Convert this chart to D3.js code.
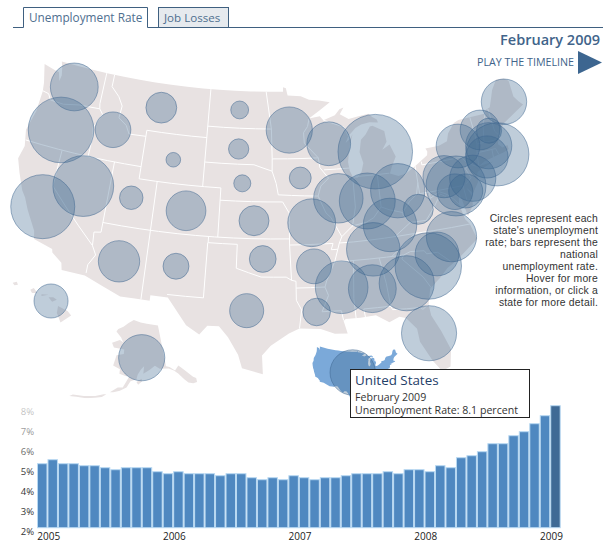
<!DOCTYPE html>
<html>
<head>
<meta charset="utf-8">
<script src="https://cdn.jsdelivr.net/npm/d3@7"></script>
<style>
body { margin: 0; background: #fff; }
text { font-family: "Open Sans", sans-serif; }
</style>
</head>
<body>
<div id="chart"></div>
<script>
// unemployment rate for each state, Feb 2009
var states = ["WA","OR","ID","MT","ND","SD","WY","NE","MN","NV","CA","UT","CO","KS","AZ","NM","OK","TX","HI","AK","IA","WI","MI","ME","NH","VT","RI","MA","CT","NY","PA","NJ","DE","MD","DC","WV","KY","TN","MO","IL","IN","OH","AR","LA","MS","AL","GA","SC","VA","NC","FL"];
var rates = [8.4,10.6,6.9,6.3,4.7,5.0,4.3,4.6,8.2,10.0,10.4,5.4,7.4,6.2,7.6,5.7,5.8,6.7,6.7,8.2,5.2,7.9,11.7,8.1,7.4,5.6,10.3,8.2,7.7,7.9,7.7,8.2,6.9,6.7,9.9,6.2,9.1,9.1,8.4,8.6,9.4,9.2,6.8,5.9,9.0,8.4,9.3,10.7,8.7,7.9,9.3];
var stateLon = [-120.48,-120.69,-114.91,-109.77,-100.39,-100.30,-107.59,-99.73,-94.46,-116.84,-120.48,-111.56,-105.59,-98.34,-111.73,-106.03,-97.36,-98.83,-156.49,-151.99,-93.33,-89.94,-84.72,-69.03,-72.55,-71.58,-71.36,-72.04,-72.53,-75.39,-77.60,-74.59,-76.76,-75.62,-76.53,-80.93,-84.10,-86.10,-92.26,-89.28,-86.20,-82.81,-92.20,-92.12,-89.57,-86.59,-83.19,-80.84,-78.03,-79.78,-81.76];
var stateLat = [47.25,43.57,44.55,47.01,47.44,44.24,42.92,41.46,45.85,39.57,37.17,39.38,38.92,38.46,34.13,34.36,35.37,31.14,20.66,62.82,41.92,44.60,43.61,45.51,43.80,43.56,41.53,42.38,41.53,42.94,40.73,40.12,39.36,39.24,39.80,38.49,37.56,35.75,38.26,40.12,39.70,40.23,34.72,31.00,32.90,32.58,32.69,33.82,35.84,34.67,28.39];

var usSpot = [-98.05, 38.93];

var months = [];
["2005","2006","2007","2008","2009"].forEach(function(y) {
    d3.range(1, 13).forEach(function(m) { months.push(y + "-" + m); });
});
months = months.slice(0, 50);
var national = [5.2,5.4,5.2,5.2,5.1,5.1,5.0,4.9,5.0,5.0,5.0,4.8,4.7,4.8,4.7,4.7,4.7,4.6,4.7,4.7,4.5,4.4,4.5,4.4,4.6,4.5,4.4,4.5,4.5,4.6,4.7,4.7,4.7,4.8,4.7,4.9,4.9,4.8,5.1,5.0,5.5,5.6,5.8,6.2,6.2,6.6,6.8,7.2,7.6,8.1];
var yearTicks = ["2005-1","2006-1","2007-1","2008-1","2009-1"];
var rateTicks = [2,3,4,5,6,7,8];

var noteLines = ["Circles represent each","state's unemployment","rate; bars represent the","national","unemployment rate.","Hover for more","information, or click a","state for more detail."];

// lower 48 outline, lon/lat, clockwise
var outline = [[-124.7,48.4],[-123.2,48.15],[-122.75,48.1],[-122.4,47.4],[-122.3,47.9],[-122.5,48.5],[-122.76,49],[-95.15,49],[-95.15,49.38],[-94.8,49.3],[-94.6,48.7],[-93,48.6],[-92,48.3],[-90.8,48.2],[-89.5,48],[-92.1,46.75],[-90.8,46.9],[-90.4,46.55],[-89,46.9],[-88.4,47.35],[-87.9,47.47],[-88.4,46.95],[-87.4,46.5],[-86.2,46.65],[-85,46.75],[-84.6,46.45],[-84.1,46.2],[-84,45.95],[-85,46.05],[-86,45.95],[-86.7,45.7],[-87.6,45.1],[-88,44.55],[-87.4,44.9],[-87.1,45.25],[-87.6,44.2],[-87.9,43],[-87.8,42.3],[-87.5,41.7],[-87,41.65],[-86.5,42.1],[-86.2,42.8],[-86.5,43.7],[-86.2,44.7],[-85.6,45.1],[-85,45.7],[-84.7,45.75],[-83.4,45.2],[-83.3,44.3],[-83.9,43.7],[-83,44.05],[-82.5,43],[-83.1,42.2],[-83.4,41.7],[-82.5,41.4],[-81.7,41.5],[-80.5,42],[-79,42.7],[-78.9,43],[-79.05,43.27],[-77.5,43.27],[-76.5,43.5],[-76.2,44.1],[-75.3,44.85],[-74.7,45],[-71.5,45],[-71.4,45.25],[-70.8,45.4],[-70.3,46.2],[-70,46.7],[-69.2,47.45],[-68.3,47.35],[-67.8,47.05],[-67.8,45.7],[-67.4,45.2],[-67,44.85],[-68.5,44.3],[-69.8,43.8],[-70.6,43.1],[-70.8,42.7],[-71,42.3],[-70.6,41.95],[-70,42.05],[-70,41.7],[-70.6,41.55],[-71.4,41.45],[-72.9,41.25],[-73.7,40.95],[-72,41.05],[-73.9,40.55],[-74,40.4],[-74.1,39.75],[-74.9,38.95],[-75.5,39.5],[-75.1,38.8],[-75.2,38],[-75.95,37.2],[-76.2,38.6],[-76.4,39.2],[-76.6,38.3],[-76.3,37],[-75.95,36.6],[-75.5,35.25],[-76.6,34.65],[-77.9,33.9],[-79,33.4],[-79.9,32.7],[-81,32],[-81.4,30.7],[-81.3,29.8],[-80.6,28.4],[-80,26.8],[-80.3,25.4],[-81.1,25.15],[-81.8,26.1],[-82.7,27.8],[-82.8,28.9],[-83.7,29.9],[-84.3,30.05],[-85.3,29.7],[-86.5,30.4],[-88,30.3],[-89.4,30.3],[-89.6,30.15],[-89.3,29.1],[-90.5,29.15],[-91.8,29.6],[-93.8,29.7],[-94.8,29.3],[-96.5,28.3],[-97.3,27.5],[-97.2,25.95],[-99.1,26.4],[-99.5,27.5],[-100.5,28.9],[-101.4,29.77],[-102.5,29.75],[-103.2,28.98],[-104.5,29.65],[-106.5,31.76],[-108.2,31.78],[-108.2,31.33],[-111.07,31.33],[-114.8,32.5],[-117.12,32.53],[-117.3,33.1],[-118.4,33.75],[-118.5,34.03],[-120.5,34.45],[-120.7,35.1],[-121.9,36.6],[-122.5,37.5],[-123,38],[-123.8,39.3],[-124.4,40.4],[-124.1,41.5],[-124.5,42.8],[-124,44.5],[-123.95,46.2],[-124.1,46.9],[-124.7,48.4]];

// state lines
var borders = [
 [[-124,46.25],[-123.2,46.15],[-122.8,45.7],[-121.2,45.65],[-119.3,45.93],[-116.92,46]],
 [[-117.04,49],[-117.04,46.4],[-116.92,46],[-116.46,45.6],[-117.2,44.4],[-117.03,43.8],[-117.03,42]],
 [[-124.2,42],[-111.05,42]],
 [[-120,42],[-120,39],[-114.63,35],[-114.14,34.3],[-114.72,33.4],[-114.72,32.72]],
 [[-114.04,42],[-114.04,36.2],[-114.75,36.1],[-114.63,35]],
 [[-114.04,37],[-94.62,37]],
 [[-116.05,49],[-116.05,48],[-115,47.3],[-114.4,46.6],[-114.5,45.6],[-113.5,45.1],[-113,44.45],[-111.05,44.5]],
 [[-111.05,45],[-111.05,41],[-102.05,41],[-102.05,37]],
 [[-111.05,45],[-104.05,45]],
 [[-104.05,49],[-104.05,41]],
 [[-109.05,41],[-109.05,31.33]],
 [[-104.05,43],[-98.5,43],[-96.45,42.5]],
 [[-104.05,45.94],[-96.56,45.94]],
 [[-97.23,49],[-96.56,45.94],[-96.45,43.5],[-91.22,43.5]],
 [[-96.45,43.5],[-96.45,42.5],[-96,41.5],[-95.77,40.58],[-91.45,40.4]],
 [[-102.05,40],[-95.3,40],[-94.62,39.1],[-94.62,36.5],[-94.48,33.64]],
 [[-103,37],[-103,36.5],[-100,36.5],[-100,34.56],[-97.5,33.9],[-95,33.9],[-94.48,33.64],[-94.04,33.55],[-94.04,32],[-93.55,31.2],[-93.8,29.7]],
 [[-103.04,36.5],[-103.06,32],[-106.6,32]],
 [[-94.04,33],[-91.2,33]],
 [[-94.62,36.5],[-90.15,36.5],[-90.37,36],[-89.7,36]],
 [[-91.22,43.5],[-91.1,42.7],[-90.2,41.8],[-91.1,41.2],[-91.45,40.4],[-90.7,39],[-90.2,38.6],[-89.2,37],[-89.5,36.5],[-89.7,36],[-90.1,35],[-91,33.5],[-91.2,33],[-90.9,32.3],[-91.6,31],[-89.75,31],[-89.6,30.2]],
 [[-90.1,35],[-83.1,35],[-82.4,35.2],[-81,35.1],[-80.8,34.82],[-79.7,34.8],[-78.55,33.87]],
 [[-88.2,35],[-88.47,31.9],[-88.4,30.3]],
 [[-87.5,30.3],[-87.6,31],[-85,31]],
 [[-85.6,35],[-85.18,32.9],[-85,31],[-84.86,30.7],[-82.2,30.57],[-82,30.4],[-81.45,30.7]],
 [[-83.1,35],[-83.35,34.7],[-81.5,33],[-80.9,32.05]],
 [[-84.32,35],[-83,35.8],[-81.7,36.6]],
 [[-89.5,36.5],[-88,36.5],[-81.7,36.6],[-75.9,36.55]],
 [[-83.68,36.6],[-81.97,37.54],[-82.6,38.2],[-82.6,38.42]],
 [[-89.2,37],[-88,37.8],[-86.5,38],[-85.7,38.3],[-84.8,39.1],[-84,38.8],[-82.6,38.42],[-81.75,39.2],[-80.87,39.7],[-80.52,40.64]],
 [[-87.53,41.7],[-87.53,39.3],[-88,37.8]],
 [[-84.8,39.1],[-84.8,41.76]],
 [[-87,41.76],[-83.45,41.73]],
 [[-90.65,42.5],[-87.8,42.5]],
 [[-92.1,46.7],[-92.3,46.1],[-92.8,45.6],[-92.75,44.75],[-91.22,43.5]],
 [[-90.4,46.55],[-88.1,45.9],[-87.6,45.1]],
 [[-80.52,42],[-80.52,39.72],[-75.79,39.72],[-75.7,38.46],[-75.05,38.45]],
 [[-79.76,42.27],[-79.76,42],[-75.35,42],[-74.7,41.36],[-75.13,40.98],[-74.75,40.2],[-75.4,39.8]],
 [[-74.7,41.36],[-73.9,41]],
 [[-81.97,37.54],[-80.3,37.5],[-79.3,38.4],[-78.35,39.4],[-77.83,39.13],[-77.7,39.3]],
 [[-79.48,39.72],[-79.48,39.2],[-78.4,39.6],[-77.7,39.3],[-77.05,38.8],[-76.3,38]],
 [[-73.34,45],[-73.25,43.6],[-73.27,42.75],[-73.5,42.05],[-73.65,41]],
 [[-71.5,45],[-72.05,44.2],[-72.46,42.73]],
 [[-73.27,42.75],[-71.3,42.7],[-70.8,42.87]],
 [[-73.5,42.05],[-71.38,42.02],[-71.2,41.5]],
 [[-71.8,42.02],[-71.85,41.32]],
 [[-71.08,45.3],[-70.98,43.4],[-70.7,43.07]]
];

var alaska = [[-141,69.65],[-141,60.3],[-139.5,60],[-137.5,58.9],[-135.5,59.8],[-133.4,58.4],[-131,56.4],[-130,55.9],[-130.2,55],[-131.8,55],[-133.5,55.5],[-134.7,56.5],[-136.5,58.1],[-138,59],[-140,59.7],[-144,60],[-146,60.8],[-148.5,60],[-151.5,59.2],[-151,60.9],[-152.5,60.2],[-154,59],[-154.5,58],[-157,57.5],[-158.5,56.1],[-161,55.2],[-163.5,54.7],[-164.8,54.6],[-162,55.9],[-160,56],[-157.5,58.7],[-159,58.6],[-162,59],[-162,60],[-165.3,60.6],[-164.5,63],[-161,63.5],[-161,64.5],[-166.5,64.6],[-168,65.6],[-164,66.5],[-162,66.1],[-163.5,67.1],[-166.8,68.3],[-166,68.9],[-163,69.6],[-160,70.6],[-156.6,71.35],[-152,70.8],[-148,70.4],[-141,69.65]];
var kodiak = [[-154.5,57.4],[-152.3,58.1],[-152.2,57.5],[-153.8,56.8],[-154.5,57.4]];
var aleutians = [[-166,54],[-167.5,53.2],[-170,52.7],[-173,52.1],[-176.5,51.7],[-179,51.3],[-178,51.9],[-174,52.4],[-170,53.1],[-167,53.9],[-166,54]];
var hawaii = [
 [[-155.9,20.25],[-155.1,19.85],[-154.8,19.5],[-155.7,18.95],[-156,19.7],[-155.9,20.25]],
 [[-156.7,20.95],[-156.3,20.95],[-156,20.75],[-156.4,20.6],[-156.7,20.95]],
 [[-157.3,21.2],[-156.7,21.17],[-157.3,21.05],[-157.3,21.2]],
 [[-158.25,21.55],[-157.95,21.7],[-157.65,21.3],[-158.1,21.3],[-158.25,21.55]],
 [[-159.75,22.1],[-159.4,22.2],[-159.3,21.95],[-159.6,21.9],[-159.75,22.1]]
];

var svg = d3.select("#chart").append("svg").attr("width", 614).attr("height", 547);

// straight lon/lat runs have to follow parallels, not great circles
function dense(line) {
    var out = [];
    line.forEach(function(p, i) {
        if (i > 0) {
            var a = line[i - 1], n = Math.ceil(Math.abs(p[0] - a[0]) / 2);
            for (var k = 1; k < n; k++) out.push([a[0] + (p[0] - a[0]) * k / n, a[1] + (p[1] - a[1]) * k / n]);
        }
        out.push(p);
    });
    return out;
}

var mainProj = d3.geoAlbers().scale(700).translate([270.5, 218]);
var miniProj = d3.geoAlbers().scale(118).translate([355, 373]);
var akProj = d3.geoAlbers().rotate([154, 0]).center([-2, 58.5]).parallels([55, 65]).scale(255).translate([133, 377]);
var hiProj = d3.geoAlbers().rotate([157, 0]).center([0, 20.9]).parallels([8, 18]).scale(720).translate([45, 298]);

function spot(i) {
    var p = states[i] === "AK" ? akProj : states[i] === "HI" ? hiProj : mainProj;
    return p([stateLon[i], stateLat[i]]);
}

var land = { type: "Polygon", coordinates: [dense(outline)] };
var g = svg.append("g");
g.append("path").attr("d", d3.geoPath(mainProj)(land)).attr("fill", "#e8e2e2");
g.append("path")
    .attr("d", d3.geoPath(mainProj)({ type: "MultiLineString", coordinates: borders.map(dense) }))
    .attr("fill", "none").attr("stroke", "#fff").attr("stroke-width", 1);
g.append("path")
    .attr("d", d3.geoPath(akProj)({ type: "MultiPolygon", coordinates: [[alaska], [kodiak], [aleutians]] }))
    .attr("fill", "#e8e2e2");
g.append("path")
    .attr("d", d3.geoPath(hiProj)({ type: "MultiPolygon", coordinates: hawaii.map(function(h) { return [h]; }) }))
    .attr("fill", "#e8e2e2");

// small blue US behind the tooltip
svg.append("path").attr("d", d3.geoPath(miniProj)(land)).attr("fill", "#7ba9d9");

var r = d3.scaleLinear().domain([2.5, 12]).range([0, 38.5]);

svg.append("g").selectAll("circle")
    .data(states)
    .enter()
    .append("circle")
    .attr("cx", function(d, i) { return spot(i)[0]; })
    .attr("cy", function(d, i) { return spot(i)[1]; })
    .attr("r", function(d, i) { return r(rates[i]); })
    .attr("fill", "#3d6690")
    .attr("fill-opacity", 0.33)
    .attr("stroke", "#3d6690")
    .attr("stroke-opacity", 0.5);

var usXY = miniProj(usSpot);
svg.append("circle")
    .attr("cx", usXY[0]).attr("cy", usXY[1])
    .attr("r", r(national[national.length - 1]))
    .attr("fill", "#3d6690").attr("fill-opacity", 0.33)
    .attr("stroke", "#3d6690").attr("stroke-opacity", 0.5);

// tabs
var tabColor = "#3f6080";
svg.append("path")
    .attr("d", "M13,27.5H23.5V7.5H147.5V27.5H158.5M228.5,27.5H603")
    .attr("fill", "none").attr("stroke", tabColor);
svg.append("rect").attr("x", 158.5).attr("y", 7.5).attr("width", 70).attr("height", 20)
    .attr("fill", "#e6eaee").attr("stroke", tabColor);
svg.append("text").attr("x", 29).attr("y", 22).attr("font-size", 11.8).attr("fill", "#4f6f8f").text("Unemployment Rate");
svg.append("text").attr("x", 164).attr("y", 22).attr("font-size", 11.6).attr("fill", "#4f6f8f").text("Job Losses");

svg.append("text").attr("x", 600).attr("y", 45).attr("text-anchor", "end")
    .attr("font-size", 14.5).attr("font-weight", 600).attr("fill", "#41648a").text("February 2009");
svg.append("text").attr("x", 574).attr("y", 66).attr("text-anchor", "end")
    .attr("font-size", 10.7).attr("fill", "#41648a").text("PLAY THE TIMELINE");
svg.append("path").attr("d", "M578,51L602,62.5L578,74Z").attr("fill", "#3d6690");

var note = svg.append("g");
note.selectAll("text")
    .data(noteLines)
    .enter()
    .append("text")
    .attr("x", 598)
    .attr("y", function(d, i) { return 222 + i * 12; })
    .attr("text-anchor", "end")
    .attr("font-size", 10.4)
    .attr("letter-spacing", 0.2)
    .attr("fill", "#333")
    .style("font-family", "'Liberation Sans', sans-serif")
    .text(function(d) { return d; });

// bar chart
var chartLeft = 37, chartRight = 560.7, chartBottom = 527.7;
var xScale = d3.scaleBand().domain(months).range([chartLeft, chartRight]);
var yScale = d3.scaleLinear().domain([2, 8]).range([chartBottom, chartBottom - 120]);

var yAxis = svg.append("g")
    .attr("transform", "translate(" + 34 + ",0)")
    .call(d3.axisLeft(yScale).tickValues(rateTicks).tickSize(0).tickPadding(0).tickFormat(function(d) { return d + "%"; }));
yAxis.select(".domain").remove();
yAxis.selectAll("text").attr("dy", "0.75em").attr("font-size", 9.5).attr("fill", "#333").attr("font-family", "'Open Sans', sans-serif");

// labels and the bottom of the map fade out under a white wash
var defs = svg.append("defs");
var grad = defs.append("linearGradient").attr("id", "wash").attr("x1", 0).attr("y1", 0).attr("x2", 0).attr("y2", 1);
grad.append("stop").attr("offset", 0).attr("stop-color", "#fff").attr("stop-opacity", 0.85);
grad.append("stop").attr("offset", 1).attr("stop-color", "#fff").attr("stop-opacity", 0);
svg.append("rect").attr("x", 0).attr("y", 398).attr("width", 345).attr("height", 78).attr("fill", "url(#wash)");

svg.append("g").selectAll("rect")
    .data(months)
    .enter()
    .append("rect")
    .attr("x", function(d) { return xScale(d) + 0.5; })
    .attr("width", xScale.bandwidth() - 1)
    .attr("y", function(d, i) { return yScale(national[i]); })
    .attr("height", function(d, i) { return chartBottom - yScale(national[i]); })
    .attr("fill", function(d, i) { return i === months.length - 1 ? "#3f6a95" : "#4f88c0"; })
    .attr("stroke", "#b9d9f2")
    .attr("stroke-width", 1);

var xAxis = svg.append("g")
    .attr("transform", "translate(0," + chartBottom + ")")
    .call(d3.axisBottom(xScale).tickValues(yearTicks).tickSize(0).tickPadding(5).tickFormat(function(d) { return d.slice(0, 4); }));
xAxis.select(".domain").remove();
xAxis.selectAll("text").attr("text-anchor", "start").attr("dx", -5).attr("font-size", 10).attr("fill", "#222").attr("font-family", "'Open Sans', sans-serif");

// tooltip
svg.append("rect").attr("x", 350.5).attr("y", 369.5).attr("width", 179).attr("height", 48)
    .attr("fill", "#fff").attr("stroke", "#222");
svg.append("text").attr("x", 355).attr("y", 385).attr("font-size", 13.4).attr("fill", "#1f4068").text("United States");
var tipBody = svg.append("text").attr("font-size", 10.6).attr("fill", "#333");
tipBody.append("tspan").attr("x", 355).attr("y", 400.5).text("February 2009");
tipBody.append("tspan").attr("x", 355).attr("y", 413.5)
    .text("Unemployment Rate: " + national[national.length - 1] + " percent");
</script>
</body>
</html>
